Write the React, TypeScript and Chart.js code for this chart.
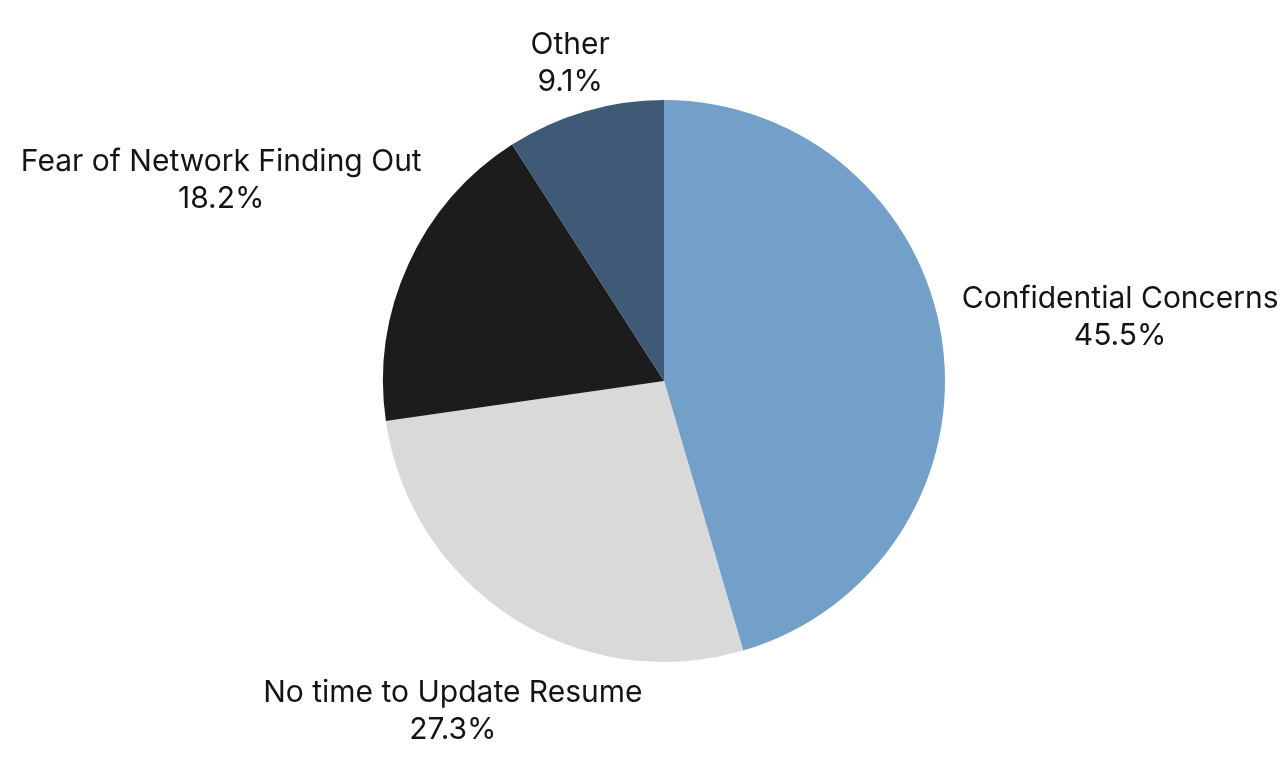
import React, { useEffect, useRef } from "react";
import { Chart, registerables } from "chart.js";

Chart.register(...registerables);

const categories = [
  "Confidential Concerns",
  "No time to Update Resume",
  "Fear of Network Finding Out",
  "Other",
];
const shares = [45.5, 27.3, 18.2, 9.1];
const sliceColors = ["#73a0c8", "#d9d9d9", "#1c1c1c", "#3e5a77"];

const W = 1288;
const H = 775;
const FONT_SIZE = 30;
const CAP = 22;
const LINE_H = 37;
const PAD = 23;
const MARGIN_TOP = 32;
const MARGIN_BOTTOM = 36;

const outsideLabels = {
  id: "outsideLabels",
  afterDatasetsDraw(chart: any) {
    const ctx = chart.ctx as CanvasRenderingContext2D;
    const meta = chart.getDatasetMeta(0);
    ctx.save();
    ctx.font = `${FONT_SIZE}px Inter, "Noto Sans", sans-serif`;
    ctx.fillStyle = "#141414";
    ctx.textAlign = "center";
    ctx.textBaseline = "alphabetic";
    meta.data.forEach((arc: any, i: number) => {
      const p = arc.getProps(["x", "y", "startAngle", "endAngle", "outerRadius"], true);
      const mid = (p.startAngle + p.endAngle) / 2;
      const c = Math.cos(mid);
      const s = Math.sin(mid);
      const lines = [categories[i], `${shares[i].toFixed(1)}%`];
      const w = Math.max(...lines.map((l) => ctx.measureText(l).width));
      const hw = w / 2;
      const hh = (LINE_H + CAP) / 2;
      let d = p.outerRadius + PAD + Math.hypot(c * hw, s * hh);
      let cy = p.y + s * d;
      if (cy + hh > H - MARGIN_BOTTOM && s > 0) d = (H - MARGIN_BOTTOM - hh - p.y) / s;
      if (cy - hh < MARGIN_TOP && s < 0) d = (MARGIN_TOP + hh - p.y) / s;
      const cx = p.x + c * d;
      cy = p.y + s * d;
      const top = cy - hh;
      ctx.fillText(lines[0], cx, top + CAP);
      ctx.fillText(lines[1], cx, top + CAP + LINE_H);
    });
    ctx.restore();
  },
};

export default function App() {
  const ref = useRef<HTMLCanvasElement | null>(null);
  useEffect(() => {
    if (!ref.current) return;
    const chart = new Chart(ref.current, {
      type: "pie",
      data: {
        labels: categories,
        datasets: [
          {
            data: shares,
            backgroundColor: sliceColors,
            borderWidth: 0,
          },
        ],
      },
      options: {
        responsive: false,
        animation: false,
        layout: { padding: { left: 383, right: 343, top: 100, bottom: 113 } },
        plugins: {
          legend: { display: false },
          tooltip: { enabled: false },
        },
      },
      plugins: [outsideLabels],
    });
    return () => chart.destroy();
  }, []);
  return (
    <div style={{ position: "fixed", left: 0, top: 0, width: W, height: H, background: "#fff" }}>
      <canvas ref={ref} width={W} height={H} style={{ width: W, height: H, display: "block" }} />
    </div>
  );
}
